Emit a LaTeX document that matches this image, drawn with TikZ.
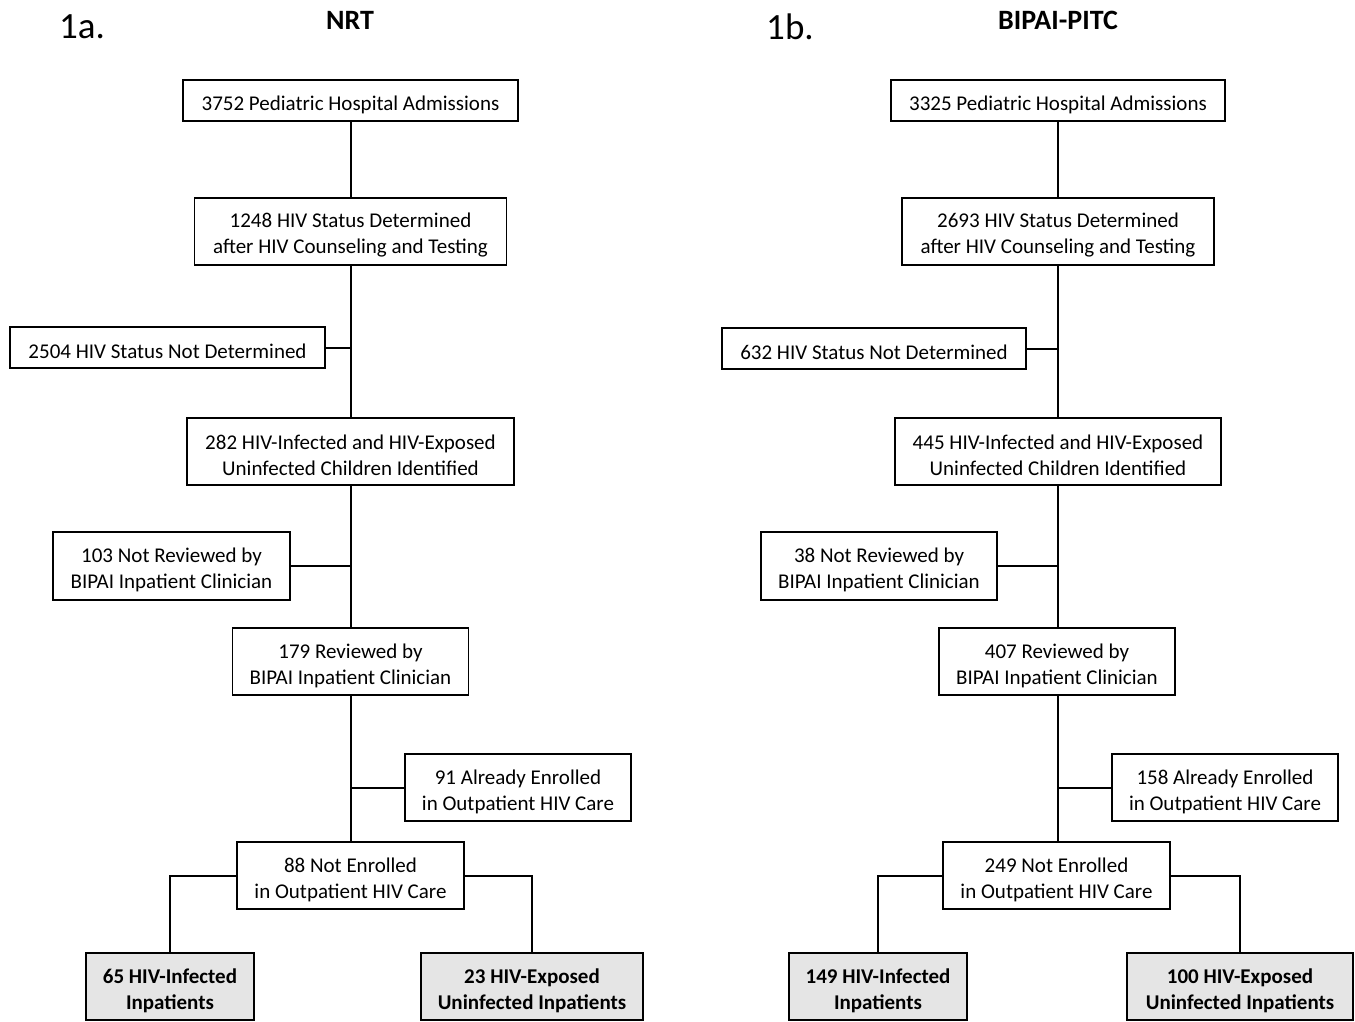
\documentclass[tikz,border=0pt]{standalone}
\usepackage{fontspec}
\setmainfont{Carlito}
\newcommand\tup{\rule{0pt}{22.5pt}}
\begin{document}
\begin{tikzpicture}[x=1pt,y=-1pt,
  box/.style={draw, line width=1.8pt, align=center, inner sep=0pt, font=\fontsize{21}{26}\selectfont},
  gbox/.style={box, fill=black!10, font=\fontsize{21}{26}\selectfont\bfseries},
  ln/.style={line width=2pt}]
\useasboundingbox (0,0) rectangle (1355,1021);
% titles
\node[font=\fontsize{37}{40}\selectfont] (ta) at (82,27) {1a.};
\node[font=\fontsize{28}{30}\selectfont\bfseries] (tna) at (350,20) {NRT};
\node[font=\fontsize{37}{40}\selectfont] (tb) at (790,27) {1b.};
\node[font=\fontsize{28}{30}\selectfont\bfseries] (tnb) at (1058,20) {BIPAI-PITC};

% ---------- left panel ----------
\node[box, minimum width=335, minimum height=41] (a1) at (350.5,100.5) {\tup 3752 Pediatric Hospital Admissions};
\node[box, minimum width=312, minimum height=67] (a2) at (350.5,231.5) {\tup 1248 HIV Status Determined\\after HIV Counseling and Testing};
\node[box, minimum width=315, minimum height=41] (a3) at (167.5,347.5) {\tup 2504 HIV Status Not Determined};
\node[box, minimum width=327, minimum height=67] (a4) at (350.5,451.5) {\tup 282 HIV-Infected and HIV-Exposed\\Uninfected Children Identified};
\node[box, minimum width=237, minimum height=68] (a5) at (171.5,566) {\tup 103 Not Reviewed by\\BIPAI Inpatient Clinician};
\node[box, minimum width=236, minimum height=67] (a6) at (350.5,661.5) {\tup 179 Reviewed by\\BIPAI Inpatient Clinician};
\node[box, minimum width=226, minimum height=67] (a7) at (518,787.5) {\tup 91 Already Enrolled\\in Outpatient HIV Care};
\node[box, minimum width=227, minimum height=67] (a8) at (350.5,875.5) {\tup 88 Not Enrolled\\in Outpatient HIV Care};
\node[gbox, minimum width=168, minimum height=67] (a9) at (170,986.5) {\tup 65 HIV-Infected\\Inpatients};
\node[gbox, minimum width=222, minimum height=67] (a10) at (532,986.5) {\tup 23 HIV-Exposed\\Uninfected Inpatients};

\draw[ln] (a1.south) -- (a2.north);
\draw[ln] (a2.south) -- (a4.north);
\draw[ln] (a4.south) -- (a6.north);
\draw[ln] (a6.south) -- (a8.north);
\draw[ln] (a3.east) -- (a3.east -| a1.south);
\draw[ln] (a5.east) -- (a5.east -| a1.south);
\draw[ln] (a7.west) -- (a7.west -| a1.south);
\draw[ln] (a8.west) -| (a9.north);
\draw[ln] (a8.east) -| (a10.north);

% ---------- right panel ----------
\node[box, minimum width=334, minimum height=41] (b1) at (1058,100.5) {\tup 3325 Pediatric Hospital Admissions};
\node[box, minimum width=312, minimum height=67] (b2) at (1058,231.5) {\tup 2693 HIV Status Determined\\after HIV Counseling and Testing};
\node[box, minimum width=304, minimum height=41] (b3) at (874,348.5) {\tup 632 HIV Status Not Determined};
\node[box, minimum width=326, minimum height=67] (b4) at (1058,451.5) {\tup 445 HIV-Infected and HIV-Exposed\\Uninfected Children Identified};
\node[box, minimum width=236, minimum height=68] (b5) at (879,566) {\tup 38 Not Reviewed by\\BIPAI Inpatient Clinician};
\node[box, minimum width=236, minimum height=67] (b6) at (1057,661.5) {\tup 407 Reviewed by\\BIPAI Inpatient Clinician};
\node[box, minimum width=226, minimum height=67] (b7) at (1225,787.5) {\tup 158 Already Enrolled\\in Outpatient HIV Care};
\node[box, minimum width=227, minimum height=67] (b8) at (1056.5,875.5) {\tup 249 Not Enrolled\\in Outpatient HIV Care};
\node[gbox, minimum width=178, minimum height=67] (b9) at (878,986.5) {\tup 149 HIV-Infected\\Inpatients};
\node[gbox, minimum width=226, minimum height=67] (b10) at (1240,986.5) {\tup 100 HIV-Exposed\\Uninfected Inpatients};

\draw[ln] (b1.south) -- (b2.north);
\draw[ln] (b2.south) -- (b4.north);
\draw[ln] (b4.south) -- (b6.north -| b4.south);
\draw[ln] (b6.south -| b4.south) -- (b8.north -| b4.south);
\draw[ln] (b3.east) -- (b3.east -| b1.south);
\draw[ln] (b5.east) -- (b5.east -| b1.south);
\draw[ln] (b7.west) -- (b7.west -| b1.south);
\draw[ln] (b8.west) -| (b9.north);
\draw[ln] (b8.east) -| (b10.north);
\end{tikzpicture}
\end{document}
